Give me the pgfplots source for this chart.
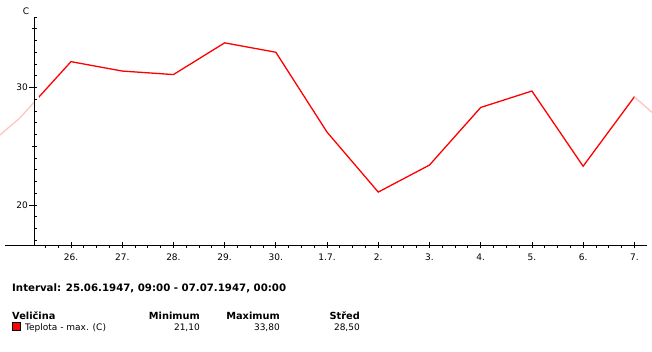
\documentclass[border=0pt]{standalone}
\usepackage{pgfplots}
\pgfplotsset{compat=1.18}
\usepackage{pgfplotstable}
\usepackage{fontspec}
\setmainfont{DejaVu Sans}
\definecolor{linered}{RGB}{255,0,0}
\definecolor{fadered}{RGB}{255,196,196}
\tikzset{xl/.style={anchor=base, inner sep=0pt, yshift=-15pt, font=\fontsize{9pt}{10pt}\selectfont}}

% day number (June days; July continues 31=1.7., 32=2., ...) and max temperature
\pgfplotstableread{
d v
24 23.7
25 27.4
26 32.2
27 31.4
28 31.1
29 33.8
30 33.0
31 26.2
32 21.1
33 23.4
34 28.3
35 29.7
36 23.3
37 29.2
38 25.4
}\tmax

\begin{document}
\begin{tikzpicture}
\useasboundingbox (0pt,0pt) rectangle (652pt,351pt);
\fill[white] (0pt,0pt) rectangle (652pt,351pt);
\begin{axis}[at={(0pt,106pt)}, anchor=south west, scale only axis,
  width=652pt, height=245pt,
  xmin=24.6135, xmax=37.3454, ymin=16.5957, ymax=37.4468,
  hide axis, clip mode=individual]
  % faded parts outside the interval
  \begin{scope}
    \clip (axis cs:24.6,10) rectangle (axis cs:25.2833,40);
    \addplot[fadered, line width=1.3pt, mark=none] table[x=d,y=v] {\tmax};
  \end{scope}
  \begin{scope}
    \clip (axis cs:37,10) rectangle (axis cs:37.4,40);
    \addplot[fadered, line width=1.3pt, mark=none] table[x=d,y=v] {\tmax};
  \end{scope}
  % interval 25.06 09:00 - 07.07 00:00
  \begin{scope}
    \clip (axis cs:25.375,10) rectangle (axis cs:37,40);
    \addplot[linered, line width=1.3pt, mark=none] table[x=d,y=v] {\tmax};
  \end{scope}
  % axes
  \draw[black, line width=0.9pt] (axis cs:24.712,16.5957) -- (axis cs:37.248,16.5957);
  \draw[black, line width=0.9pt] (axis cs:25.2833,16.5957) -- (axis cs:25.2833,36);
  % x ticks
  \pgfplotsinvokeforeach{25.5,25.75,...,37}{
    \draw[black, line width=0.8pt] (axis cs:#1,16.5957) -- ++(0pt,-2.5pt);
  }
  \pgfplotsinvokeforeach{26,...,37}{
    \draw[black, line width=0.8pt] (axis cs:#1,16.5957) ++(0pt,3.5pt) -- ++(0pt,-6pt);
  }
  % y ticks
  \pgfplotsinvokeforeach{17,...,36}{
    \draw[black, line width=0.8pt] (axis cs:25.2833,#1) -- ++(2.5pt,0pt);
  }
  \pgfplotsinvokeforeach{25,35}{
    \draw[black, line width=0.8pt] (axis cs:25.2833,#1) ++(-2.5pt,0pt) -- ++(5pt,0pt);
  }
  \pgfplotsinvokeforeach{20,30}{
    \draw[black, line width=0.8pt] (axis cs:25.2833,#1) ++(-5pt,0pt) -- ++(8pt,0pt);
    \node[anchor=east, inner sep=0pt, font=\fontsize{9pt}{10pt}\selectfont]
      at (axis cs:25.2833,#1) [xshift=-6.3pt] {#1};
  }
  \node[inner sep=0pt, font=\fontsize{9pt}{10pt}\selectfont] at (axis cs:25.1213,36.51) {C};
  % x tick labels
  \node[xl] at (axis cs:26,16.5957) {26.};
  \node[xl] at (axis cs:27,16.5957) {27.};
  \node[xl] at (axis cs:28,16.5957) {28.};
  \node[xl] at (axis cs:29,16.5957) {29.};
  \node[xl] at (axis cs:30,16.5957) {30.};
  \node[xl] at (axis cs:31,16.5957) {1.7.};
  \node[xl] at (axis cs:32,16.5957) {2.};
  \node[xl] at (axis cs:33,16.5957) {3.};
  \node[xl] at (axis cs:34,16.5957) {4.};
  \node[xl] at (axis cs:35,16.5957) {5.};
  \node[xl] at (axis cs:36,16.5957) {6.};
  \node[xl] at (axis cs:37,16.5957) {7.};
\end{axis}
% summary below the chart
\node[anchor=base west, inner sep=0pt, font=\fontsize{10.2pt}{11pt}\selectfont\bfseries]
  at (12pt,60pt) {Interval: 25.06.1947, 09:00 - 07.07.1947, 00:00};
\node[anchor=base west, inner sep=0pt, font=\fontsize{9.8pt}{11pt}\selectfont\bfseries]
  at (12pt,32pt) {Veličina};
\node[anchor=base east, inner sep=0pt, font=\fontsize{9.8pt}{11pt}\selectfont\bfseries]
  at (200pt,32pt) {Minimum};
\node[anchor=base east, inner sep=0pt, font=\fontsize{9.8pt}{11pt}\selectfont\bfseries]
  at (280pt,32pt) {Maximum};
\node[anchor=base east, inner sep=0pt, font=\fontsize{9.8pt}{11pt}\selectfont\bfseries]
  at (360pt,32pt) {Střed};
\filldraw[fill=linered, draw=black, line width=0.5pt] (12pt,21pt) rectangle (20pt,29pt);
\node[anchor=base west, inner sep=0pt, font=\fontsize{9pt}{10pt}\selectfont]
  at (25pt,21pt) {Teplota - max. (C)};
\node[anchor=base east, inner sep=0pt, font=\fontsize{9pt}{10pt}\selectfont]
  at (200pt,21pt) {21,10};
\node[anchor=base east, inner sep=0pt, font=\fontsize{9pt}{10pt}\selectfont]
  at (280pt,21pt) {33,80};
\node[anchor=base east, inner sep=0pt, font=\fontsize{9pt}{10pt}\selectfont]
  at (360pt,21pt) {28,50};
\end{tikzpicture}
\end{document}
